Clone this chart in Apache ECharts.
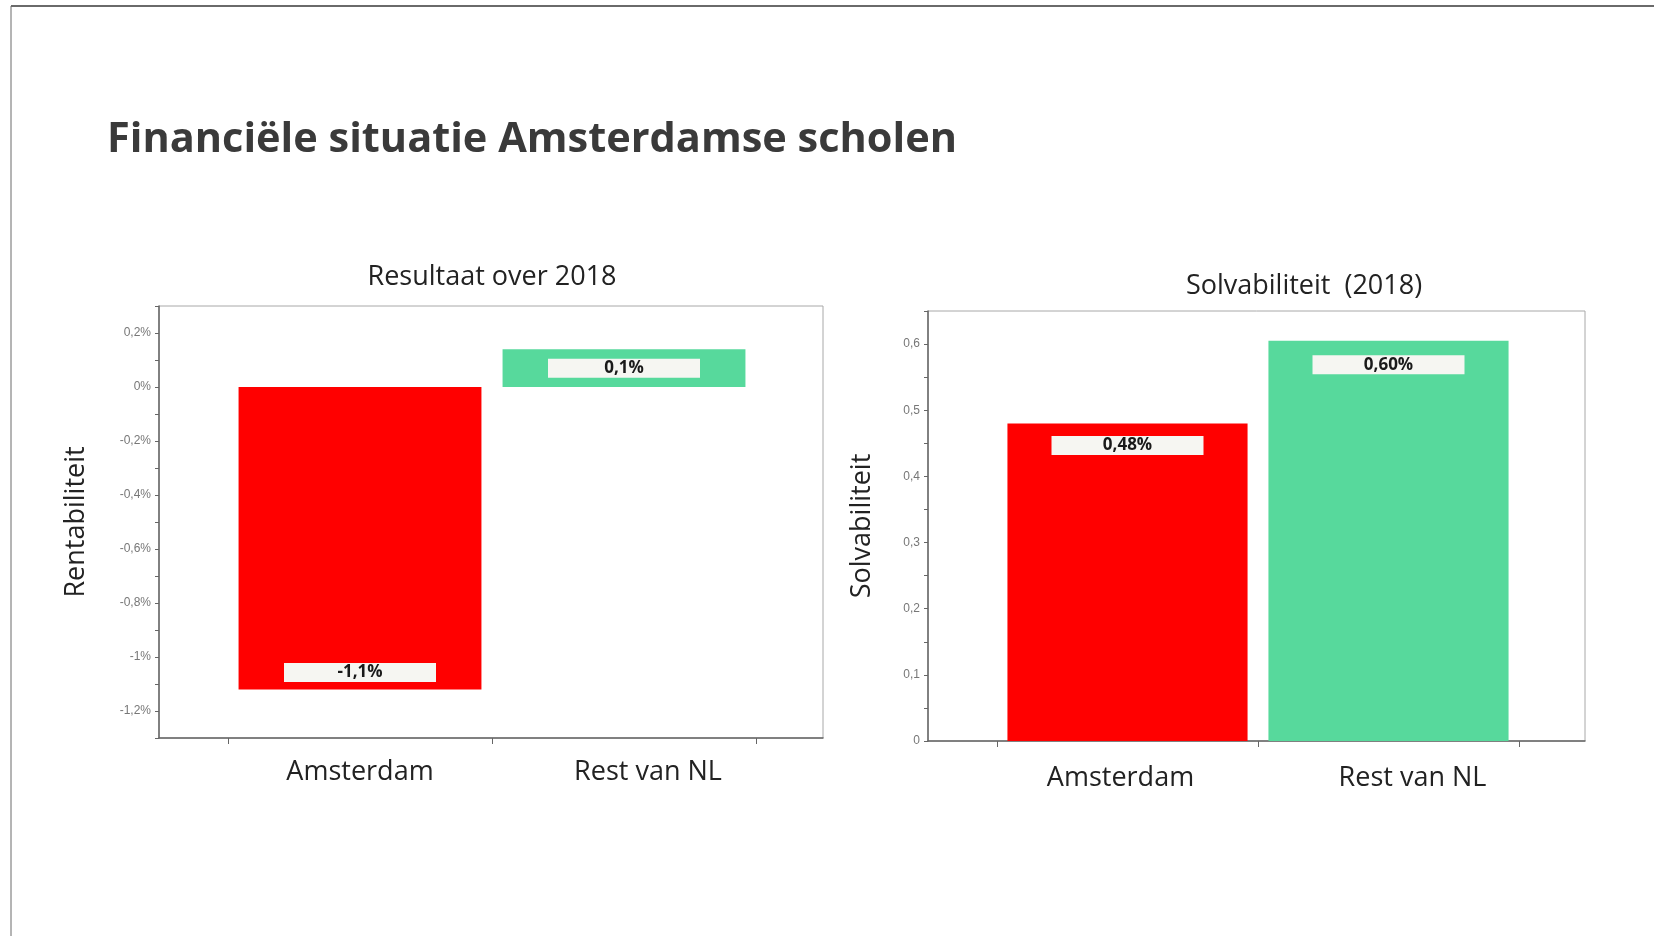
<!DOCTYPE html>
<html>
<head>
<meta charset="utf-8">
<script src="https://cdn.jsdelivr.net/npm/echarts@6/dist/echarts.min.js"></script>
<style>
html,body{margin:0;padding:0;background:#fff;}
#c{width:1654px;height:936px;}
</style>
</head>
<body>
<div id="c"></div>
<script>
// ---- data ----
const mainTitle = 'Financiële situatie Amsterdamse scholen';
const categories = ['Amsterdam', 'Rest van NL'];
const leftTitle = 'Resultaat over 2018';
const leftAxisName = 'Rentabiliteit';
const leftValues = [-1.12, 0.14];
const leftLabels = ['-1,1%', '0,1%'];
const leftTickValues = [-1.2, -1.0, -0.8, -0.6, -0.4, -0.2, 0, 0.2];
const leftTickLabels = ['-1,2%', '-1%', '-0,8%', '-0,6%', '-0,4%', '-0,2%', '0%', '0,2%'];
const rightTitle = 'Solvabiliteit  (2018)';
const rightAxisName = 'Solvabiliteit';
const rightValues = [0.48, 0.605];
const rightLabels = ['0,48%', '0,60%'];
const rightTickValues = [0, 0.1, 0.2, 0.3, 0.4, 0.5, 0.6];
const rightTickLabels = ['0', '0,1', '0,2', '0,3', '0,4', '0,5', '0,6'];
const barColors = ['#ff0000', '#57d99c'];

// ---- styles ----
const FONT = '"Open Sans", Lato, sans-serif';
function lookup(vals, labs) {
  return function (v) {
    for (let i = 0; i < vals.length; i++) if (Math.abs(vals[i] - v) < 1e-6) return labs[i];
    return '';
  };
}
function makeCatLabel(shiftA) {
  return {
    formatter: function (v) { return v === categories[1] ? '{r|' + v + '}' : '{a|' + v + '}'; },
    rich: {
      a: {fontSize: 27, color: '#222', fontFamily: FONT, padding: shiftA},
      r: {fontSize: 27, color: '#222', fontFamily: FONT, padding: [0, 0, 0, 48]}
    }
  };
}
const catL = makeCatLabel([0, 0, 0, 0]);
const catR = makeCatLabel([0, 14, 0, 0]);
function barLabel(labels, positions, distances) {
  return function (i) {
    return {
      show: true,
      position: positions[i],
      distance: distances[i],
      formatter: labels[i],
      backgroundColor: '#f6f6f2',
      width: 152,
      height: 19,
      lineHeight: 19,
      align: 'center',
      verticalAlign: 'middle',
      color: '#1a1a1a',
      fontWeight: 'bold',
      fontSize: 17,
      fontFamily: FONT
    };
  };
}
const lLab = barLabel(leftLabels, ['insideBottom', 'insideTop'], [17, 19]);
const rLab = barLabel(rightLabels, ['insideTop', 'insideTop'], [22, 24]);

const gridA = [
  {left: 159, top: 306, width: 664, height: 432, show: true, borderColor: '#a8a8a8', borderWidth: 1},
  {left: 928, top: 311, width: 657, height: 430, show: true, borderColor: '#a8a8a8', borderWidth: 1}
];
const gridB = [
  {left: 228, top: 306, width: 528, height: 432},
  {left: 997, top: 311, width: 522, height: 430}
];
const tickFont = {fontSize: 12, color: '#777', fontFamily: 'Arial, "Liberation Sans", sans-serif', margin: 8};

const option = {
  animation: false,
  backgroundColor: '#ffffff',
  title: [
    {text: mainTitle, left: 102, top: 114, textStyle: {fontFamily: FONT, fontSize: 41.5, fontWeight: 'bold', color: '#3a3a3a'}},
    {text: leftTitle, left: 487, top: 259, textAlign: 'center', textStyle: {fontFamily: FONT, fontSize: 27, fontWeight: 'normal', color: '#222'}},
    {text: rightTitle, left: 1299, top: 268, textAlign: 'center', textStyle: {fontFamily: FONT, fontSize: 27, fontWeight: 'normal', color: '#222'}}
  ],
  grid: [gridA[0], gridA[1], gridB[0], gridB[1]],
  xAxis: [
    {type: 'value', gridIndex: 0, min: 0, max: 1, axisLine: {show: true, onZero: false, lineStyle: {color: '#666', width: 1.5}}, axisTick: {show: false}, axisLabel: {show: false}, splitLine: {show: false}},
    {type: 'value', gridIndex: 1, min: 0, max: 1, axisLine: {show: true, onZero: false, lineStyle: {color: '#666', width: 1.5}}, axisTick: {show: false}, axisLabel: {show: false}, splitLine: {show: false}},
    {type: 'category', gridIndex: 2, data: categories, axisLine: {show: false, onZero: false}, axisTick: {show: true, length: 6, lineStyle: {color: '#666'}},
      axisLabel: Object.assign({margin: 21}, catL)},
    {type: 'category', gridIndex: 3, data: categories, axisLine: {show: false, onZero: false}, axisTick: {show: true, length: 6, lineStyle: {color: '#666'}},
      axisLabel: Object.assign({margin: 24}, catR)}
  ],
  yAxis: [
    {type: 'value', gridIndex: 0, min: -1.3, max: 0.3, interval: 0.1,
      name: leftAxisName, nameLocation: 'middle', nameGap: 69, nameRotate: 90,
      nameTextStyle: {fontFamily: FONT, fontSize: 27, color: '#222'},
      axisLine: {show: true, lineStyle: {color: '#666', width: 1.5}},
      axisTick: {show: true, length: 4, lineStyle: {color: '#666'}},
      axisLabel: Object.assign({customValues: leftTickValues, formatter: lookup(leftTickValues, leftTickLabels)}, tickFont),
      splitLine: {show: false}},
    {type: 'value', gridIndex: 1, min: 0, max: 0.65, interval: 0.05,
      name: rightAxisName, nameLocation: 'middle', nameGap: 52, nameRotate: 90,
      nameTextStyle: {fontFamily: FONT, fontSize: 27, color: '#222'},
      axisLine: {show: true, lineStyle: {color: '#666', width: 1.5}},
      axisTick: {show: true, length: 4, lineStyle: {color: '#666'}},
      axisLabel: Object.assign({customValues: rightTickValues, formatter: lookup(rightTickValues, rightTickLabels)}, tickFont),
      splitLine: {show: false}},
    {type: 'value', gridIndex: 2, min: -1.3, max: 0.3, show: false, splitLine: {show: false}},
    {type: 'value', gridIndex: 3, min: 0, max: 0.65, show: false, splitLine: {show: false}}
  ],
  series: [
    {type: 'bar', xAxisIndex: 2, yAxisIndex: 2, barWidth: '92%',
      data: leftValues.map((v, i) => ({value: v, itemStyle: {color: barColors[i]}, label: lLab(i)}))},
    {type: 'bar', xAxisIndex: 3, yAxisIndex: 3, barWidth: '92%',
      data: rightValues.map((v, i) => ({value: v, itemStyle: {color: barColors[i]}, label: rLab(i)}))}
  ],
  graphic: [
    {type: 'line', shape: {x1: 11, y1: 6, x2: 1654, y2: 6}, style: {stroke: '#6a6a6a', lineWidth: 2}},
    {type: 'line', shape: {x1: 11, y1: 6, x2: 11, y2: 936}, style: {stroke: '#6a6a6a', lineWidth: 1}}
  ]
};
const chart = echarts.init(document.getElementById('c'), null, {renderer: 'canvas'});
chart.setOption(option);
</script>
</body>
</html>
